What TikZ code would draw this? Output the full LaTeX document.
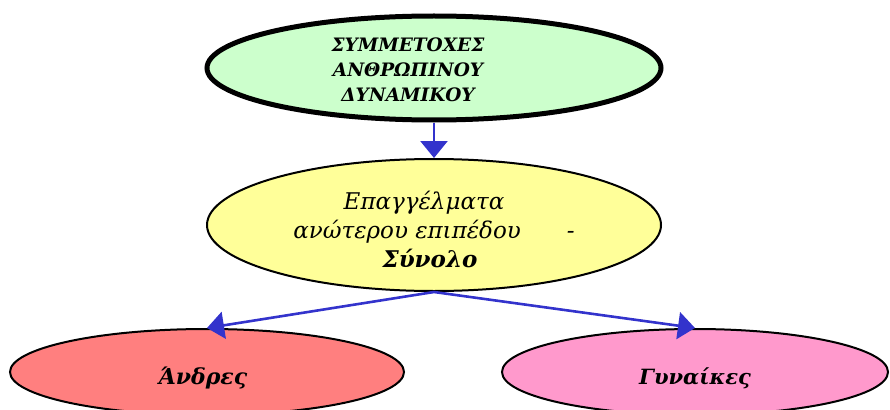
\documentclass[tikz,border=0pt]{standalone}
\usepackage{fontspec}
\setmainfont{DejaVu Serif}
\usetikzlibrary{shapes.geometric,arrows.meta}
\definecolor{topfill}{HTML}{CCFFCC}
\definecolor{midfill}{HTML}{FFFF99}
\definecolor{menfill}{HTML}{FF7F7F}
\definecolor{womfill}{HTML}{FF99CC}
\definecolor{arrowblue}{HTML}{3333CC}
\tikzset{
  oval/.style={ellipse, draw=black, line width=2pt, inner sep=0pt},
  link/.style={draw=arrowblue, line width=2.6pt, -{Triangle[length=17pt,width=27pt]}},
  lbl/.style={align=center, inner sep=0pt, font=\itshape}
}
\begin{document}
\begin{tikzpicture}[x=1pt,y=-1pt]
\useasboundingbox (0,0) rectangle (890,409);
\node[oval, fill=topfill, line width=5pt, minimum width=454pt, minimum height=104pt] (top) at (434,68) {};
\node[oval, fill=midfill, minimum width=454pt, minimum height=132pt] (mid) at (434,225) {};
\node[oval, fill=menfill, minimum width=394pt, minimum height=86pt] (men) at (207,372) {};
\node[oval, fill=womfill, minimum width=386pt, minimum height=86pt] (wom) at (695,372) {};
\node[lbl, font=\bfseries\itshape\fontsize{18.5}{25}\selectfont] (toptext) at (408,70) {ΣΥΜΜΕΤΟΧΕΣ\\ΑΝΘΡΩΠΙΝΟΥ\\ΔΥΝΑΜΙΚΟΥ};
\node[lbl, font=\itshape\fontsize{23}{29}\selectfont] (midtext) at (434,229) {Επαγγέλματα\kern20pt\\ανώτερου επιπέδου\quad\quad -\\\textbf{Σύνολο}\kern8pt};
\node[lbl, font=\bfseries\itshape\fontsize{22}{30}\selectfont] (mentext) at (203,378) {Άνδρες};
\node[lbl, font=\bfseries\itshape\fontsize{21}{30}\selectfont] (womtext) at (695,378) {Γυναίκες};
\draw[link] (top.south) -- (mid.north);
\draw[link] (mid.south) -- (men.north);
\draw[link] (mid.south) -- (wom.north);
\end{tikzpicture}
\end{document}
